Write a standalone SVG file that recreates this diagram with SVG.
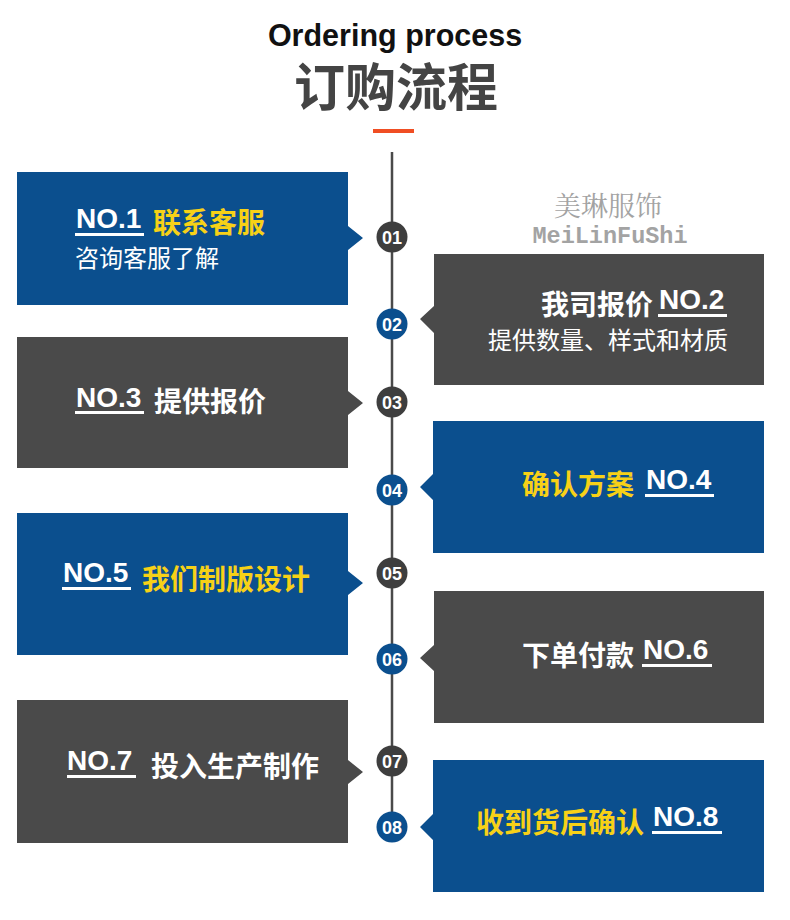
<svg xmlns="http://www.w3.org/2000/svg" width="790" height="920" viewBox="0 0 790 920">
<style>
.blue{fill:#0b4f8e}
.gray{fill:#4a4a4a}
.no{font-family:"Liberation Sans",Arial,sans-serif;font-weight:bold;font-size:28px;fill:#ffffff}
.cjkb{font-family:"Noto Sans CJK SC","Noto Sans",sans-serif;font-weight:bold;font-size:28px}
.cjk{font-family:"Noto Sans CJK SC","Noto Sans",sans-serif;font-size:24px;fill:#ffffff}
.y{fill:#f7d117}
.w{fill:#ffffff}
.ul{fill:#ffffff}
.cnum{font-family:"Liberation Sans",Arial,sans-serif;font-weight:bold;font-size:18px;fill:#ffffff;text-anchor:middle}
.cb{fill:#0b4f8e}
.cg{fill:#3e3e3e}
</style>
<rect width="790" height="920" fill="#ffffff"/>
<g id="title">
<text x="395" y="46" text-anchor="middle" font-family="Liberation Sans,Arial,sans-serif" font-weight="bold" font-size="30.5" fill="#111111">Ordering process</text>
<text x="396" y="106" text-anchor="middle" font-family="Noto Sans CJK SC,sans-serif" font-weight="bold" font-size="51" fill="#444444">订购流程</text>
<rect x="373" y="129" width="41" height="4" fill="#f04e23"/>
</g>
<g id="watermark">
<text x="608" y="216" text-anchor="middle" font-family="Noto Serif CJK SC,Noto Sans CJK SC,serif" font-size="27" fill="#a3a3a3">美琳服饰</text>
<text x="610" y="243" text-anchor="middle" font-family="Liberation Mono,monospace" font-weight="bold" font-size="23.5" fill="#a3a3a3">MeiLinFuShi</text>
</g>
<g id="connectors">
<line x1="392" y1="152" x2="392" y2="827" stroke="#4a4a4a" stroke-width="2.5"/>
</g>
<g id="step1">
<path class="blue" d="M17 172H348V226L363 238L348 250V305H17Z"/>
<text class="no" x="76" y="228">NO.1</text>
<rect class="ul" x="75" y="233" width="69" height="3"/>
<text class="cjkb y" x="153" y="233">联系客服</text>
<text class="cjk" x="75" y="267">咨询客服了解</text>
<circle class="cg" cx="392" cy="237" r="15.5"/>
<text class="cnum" x="392" y="243.5">01</text>
</g>
<g id="step2">
<path class="gray" d="M434 254H764V385H434V333L420 319L434 306Z"/>
<text class="cjkb w" x="541" y="315">我司报价</text>
<text class="no" x="659" y="309">NO.2</text>
<rect class="ul" x="658" y="314" width="69" height="3"/>
<text class="cjk" x="728" y="349" text-anchor="end">提供数量、样式和材质</text>
<circle class="cb" cx="392" cy="324" r="15.5"/>
<text class="cnum" x="392" y="330.5">02</text>
</g>
<g id="step3">
<path class="gray" d="M17 337H348V391L363 403L348 415V468H17Z"/>
<text class="no" x="76" y="407">NO.3</text>
<rect class="ul" x="75" y="411" width="69" height="3"/>
<text class="cjkb w" x="154" y="412">提供报价</text>
<circle class="cg" cx="392" cy="402" r="15.5"/>
<text class="cnum" x="392" y="408.5">03</text>
</g>
<g id="step4">
<path class="blue" d="M433 421H764V553H433V500L420 487L433 474Z"/>
<text class="cjkb y" x="522" y="495">确认方案</text>
<text class="no" x="646" y="489">NO.4</text>
<rect class="ul" x="645" y="494" width="69" height="3"/>
<circle class="cb" cx="392" cy="490" r="15.5"/>
<text class="cnum" x="392" y="496.5">04</text>
</g>
<g id="step5">
<path class="blue" d="M17 513H348V571L363 583L348 595V655H17Z"/>
<text class="no" x="63" y="582">NO.5</text>
<rect class="ul" x="62" y="587" width="69" height="3"/>
<text class="cjkb y" x="142" y="590">我们制版设计</text>
<circle class="cg" cx="392" cy="573" r="15.5"/>
<text class="cnum" x="392" y="579.5">05</text>
</g>
<g id="step6">
<path class="gray" d="M434 591H764V723H434V671L420 658L434 645Z"/>
<text class="cjkb w" x="522" y="666">下单付款</text>
<text class="no" x="643" y="659">NO.6</text>
<rect class="ul" x="642" y="664" width="70" height="3"/>
<circle class="cb" cx="392" cy="659" r="15.5"/>
<text class="cnum" x="392" y="665.5">06</text>
</g>
<g id="step7">
<path class="gray" d="M17 700H348V760L363 772L348 784V843H17Z"/>
<text class="no" x="67" y="770">NO.7</text>
<rect class="ul" x="67" y="775" width="69" height="3"/>
<text class="cjkb w" x="151" y="777" font-size="27">投入生产制作</text>
<circle class="cg" cx="392" cy="761" r="15.5"/>
<text class="cnum" x="392" y="767.5">07</text>
</g>
<g id="step8">
<path class="blue" d="M433 760H764V892H433V840L420 827L433 814Z"/>
<text class="cjkb y" x="476" y="833">收到货后确认</text>
<text class="no" x="653" y="826">NO.8</text>
<rect class="ul" x="652" y="831" width="70" height="3"/>
<circle class="cb" cx="392" cy="827" r="15.5"/>
<text class="cnum" x="392" y="833.5">08</text>
</g>
</svg>
